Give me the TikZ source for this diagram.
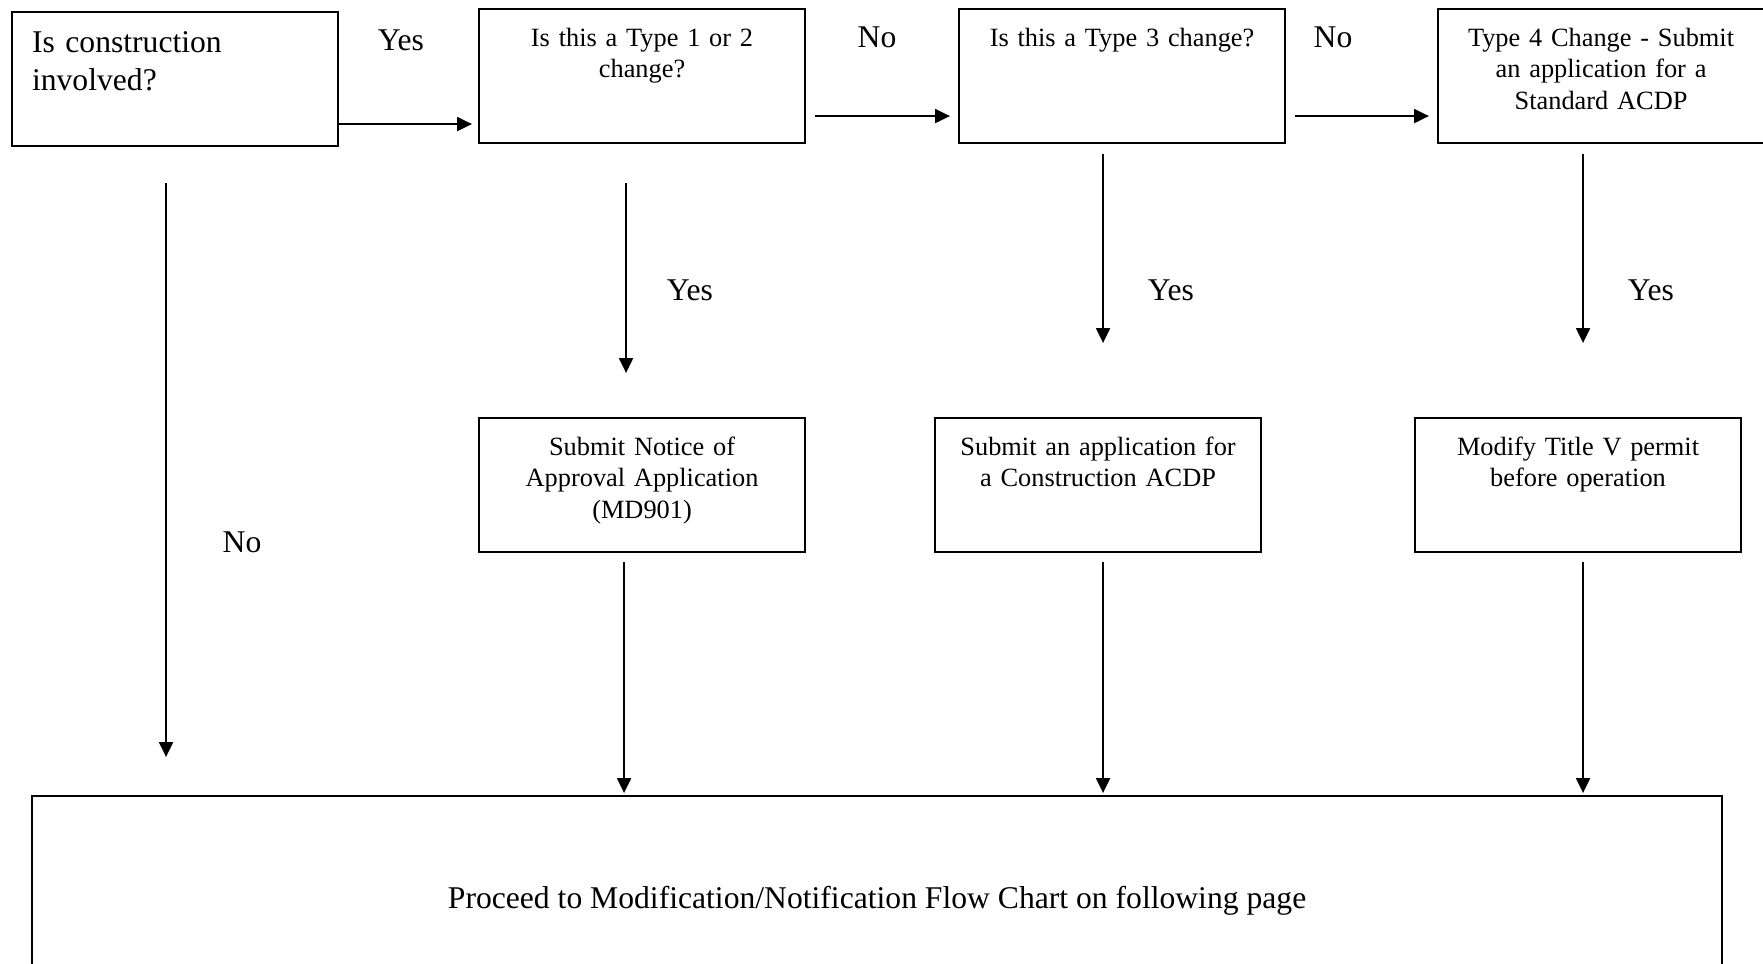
\documentclass[tikz,border=0pt]{standalone}
\usepackage{fontspec}
\setmainfont{Liberation Serif}
\usepackage{tikz}
\usetikzlibrary{arrows.meta, positioning, calc}

\begin{document}
\begin{tikzpicture}[
    every node/.style={font=\fontsize{9}{10.8}\selectfont},
    box/.style={draw, line width=0.6pt, anchor=north west, minimum width=3.26cm,
        text width=3.1cm, align=center, inner xsep=0pt, inner ysep=0pt,
        text height=0.37cm, text depth=0.97cm, font=\fontsize{7.5}{9}\selectfont},
    startbox/.style={box, align=left, text width=2.86cm, inner xsep=0.2cm,
        text height=0.40cm, text depth=0.94cm, font=\fontsize{9}{10.8}\selectfont},
    bigbox/.style={draw, line width=0.6pt, anchor=north west, minimum width=16.9cm, minimum height=2.1cm},
    arr/.style={-{Triangle[length=0.15cm, width=0.14cm]}, line width=0.6pt},
    lbl/.style={inner sep=0pt}
]
\useasboundingbox (0,0) rectangle (17.63,-9.64);

% Question row
\node[startbox] (start) at (0.11,-0.11) {Is construction\\involved?};
\node[box] (type12) at (4.78,-0.08) {Is this a Type 1 or 2\\change?};
\node[box] (type3) at (9.58,-0.08) {Is this a Type 3 change?};
\node[box] (type4) at (14.37,-0.08) {Type 4 Change - Submit\\an application for a\\Standard ACDP};

% Action row
\node[box] (notice) at (4.78,-4.17) {Submit Notice of\\Approval Application\\(MD901)};
\node[box] (acdp) at (9.34,-4.17) {Submit an application for\\a Construction ACDP};
\node[box] (titlev) at (14.14,-4.17) {Modify Title V permit\\before operation};

\node[bigbox] (proceed) at (0.31,-7.95) {Proceed to Modification/Notification Flow Chart on following page};

% Arrows
\draw[arr, shorten >=0.06cm] ([yshift=-0.45cm]start.east) -- ([yshift=-0.45cm]start.east -| type12.west);
\draw[arr, shorten <=0.09cm, shorten >=0.08cm] ([yshift=-0.40cm]type12.east) -- ([yshift=-0.40cm]type12.east -| type3.west);
\draw[arr, shorten <=0.09cm, shorten >=0.08cm] ([yshift=-0.40cm]type3.east) -- ([yshift=-0.40cm]type3.east -| type4.west);

\draw[arr, shorten <=0.36cm, shorten >=0.38cm] ([xshift=-0.09cm]start.south) -- ([xshift=-0.09cm]start.south |- proceed.north);
\draw[arr, shorten <=0.39cm, shorten >=0.44cm] ([xshift=-0.16cm]type12.south) -- ([xshift=-0.16cm]type12.south |- notice.north);
\draw[arr, shorten <=0.10cm, shorten >=0.74cm] ([xshift=-0.19cm]type3.south) -- ([xshift=-0.19cm]type3.south |- acdp.north);
\draw[arr, shorten <=0.10cm, shorten >=0.74cm] ([xshift=-0.18cm]type4.south) -- ([xshift=-0.18cm]type4.south |- titlev.north);

\draw[arr, shorten <=0.09cm, shorten >=0.02cm] ([xshift=-0.18cm]notice.south) -- ([xshift=-0.18cm]notice.south |- proceed.north);
\draw[arr, shorten <=0.09cm, shorten >=0.02cm] ([xshift=0.05cm]acdp.south) -- ([xshift=0.05cm]acdp.south |- proceed.north);
\draw[arr, shorten <=0.09cm, shorten >=0.02cm] ([xshift=0.05cm]titlev.south) -- ([xshift=0.05cm]titlev.south |- proceed.north);

% Labels
\node[lbl] (yesA) at (4.01,-0.40) {Yes};
\node[lbl] (noB) at (8.77,-0.37) {No};
\node[lbl] (noC) at (13.33,-0.37) {No};
\node[lbl] (yesB) at (6.90,-2.90) {Yes};
\node[lbl] (yesC) at (11.71,-2.90) {Yes};
\node[lbl] (yesD) at (16.51,-2.90) {Yes};
\node[lbl] (noA) at (2.42,-5.42) {No};

\end{tikzpicture}
\end{document}
